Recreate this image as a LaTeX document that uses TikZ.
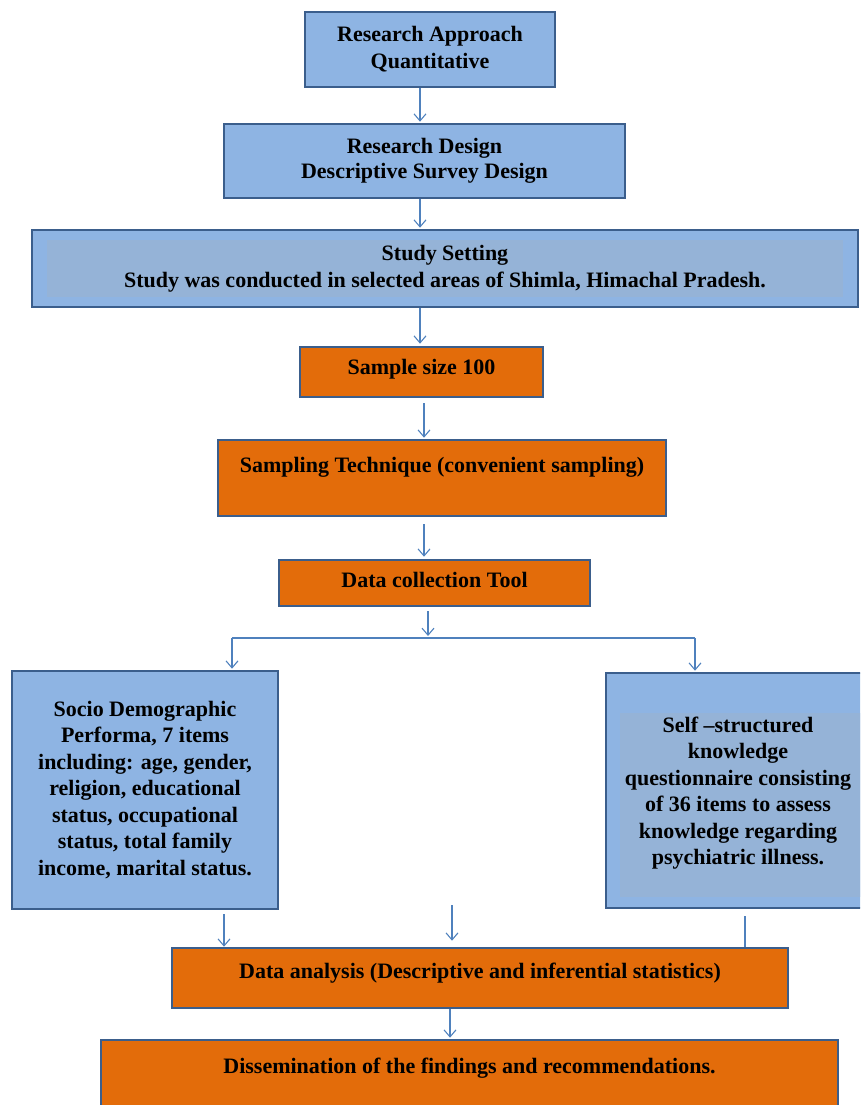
\documentclass[tikz,border=0pt]{standalone}
\usepackage{fontspec}
\setmainfont{Liberation Serif}
\usetikzlibrary{arrows.meta,calc}
\definecolor{boxblue}{HTML}{8EB4E3}
\definecolor{innerblue}{HTML}{95B3D7}
\definecolor{edgeblue}{HTML}{3B5E8C}
\definecolor{orng}{HTML}{E36C0A}
\definecolor{arrowblue}{HTML}{4F81BD}
\begin{document}
\begin{tikzpicture}[x=1pt,y=-1pt,
  box/.style={draw=edgeblue, line width=2.6pt, align=center,
    font=\fontsize{22}{26.5}\selectfont\bfseries, inner sep=0pt},
  bbox/.style={box, fill=boxblue},
  obox/.style={box, fill=orng},
  arr/.style={draw=arrowblue, line width=1.1pt, -{Straight Barb[length=7pt,width=12pt]}},
  plainline/.style={draw=arrowblue, line width=1.1pt}]
\useasboundingbox (0,0) rectangle (860,1105);
\clip (0,0) rectangle (860,1105);

% boxes
\node[bbox, minimum width=250, minimum height=75, font=\fontsize{22}{27}\selectfont\bfseries] (b1) at (430,49.5)
  {Research Approach\\Quantitative};
\node[bbox, minimum width=401, minimum height=74, font=\fontsize{22}{24.5}\selectfont\bfseries] (b2) at (424.5,161)
  {Research Design\\Descriptive Survey Design};
\node[bbox, minimum width=826, minimum height=77,
  path picture={\fill[innerblue] ($(path picture bounding box.north west)+(15,10)$)
    rectangle ($(path picture bounding box.south east)+(-15,-10)$);}] (b3) at (445,268.5)
  {Study Setting\\Study was conducted in selected areas of Shimla, Himachal Pradesh.};
\node[obox, minimum width=243, minimum height=50, text height=15, text depth=11] (b4) at (421.5,372)
  {Sample size 100};
\node[obox, minimum width=448, minimum height=76, text height=15, text depth=27] (b5) at (442,478)
  {Sampling Technique (convenient sampling)};
\node[obox, minimum width=311, minimum height=46, text height=15, text depth=7] (b6) at (434.5,583)
  {Data collection Tool};
\node[bbox, minimum width=266, minimum height=238] (b7) at (145,790)
  {Socio Demographic\\Performa, 7 items\\including: age, gender,\\religion, educational\\status, occupational\\status, total family\\income, marital status.};
\node[bbox, minimum width=260, minimum height=235,
  path picture={\fill[innerblue] ($(path picture bounding box.north west)+(14,40)$)
    rectangle ($(path picture bounding box.south east)+(0,-11)$);}] (b8) at (736,790.5)
  {};
\node[font=\fontsize{22}{26.5}\selectfont\bfseries, align=center, inner sep=0pt] (t8) at (738,793)
  {Self \textendash structured\\knowledge\\questionnaire consisting\\of 36 items to assess\\knowledge regarding\\psychiatric illness.};
\node[obox, minimum width=616, minimum height=60, text height=15, text depth=15] (b9) at (480,978)
  {Data analysis (Descriptive and inferential statistics)};
\node[obox, minimum width=737, minimum height=85, text height=15, text depth=34] (b10) at (469.5,1082.5)
  {Dissemination of the findings and recommendations.};

% column coordinates
\coordinate (c1) at (420,0);
\coordinate (c2) at (424,0);
\coordinate (c3) at (428,0);
\coordinate (j) at (428,636);
\coordinate (jl) at (232,638);
\coordinate (jr) at (695,638);
\coordinate (cl) at (224,0);
\coordinate (m) at (452,905);
\coordinate (cr) at (745,0);
\coordinate (c4) at (450,0);

% connectors
\draw[arr, shorten >=1pt] (b1.south -| c1) -- (b2.north -| c1);
\draw[arr, shorten >=1pt] (b2.south -| c1) -- (b3.north -| c1);
\draw[arr, shorten >=2pt] (b3.south -| c1) -- (b4.north -| c1);
\draw[arr, shorten <=5pt, shorten >=1pt] (b4.south -| c2) -- (b5.north -| c2);
\draw[arr, shorten <=7pt, shorten >=2pt] (b5.south -| c2) -- (b6.north -| c2);
\draw[arr, shorten <=4pt] (b6.south -| c3) -- (j);
\draw[plainline] (jl) -- (jr);
\draw[arr, shorten >=1pt] (jl) -- (b7.north -| jl);
\draw[arr, shorten >=1pt] (jr) -- (b8.north -| jr);
\draw[arr, shorten <=4pt] (b7.south -| cl) -- (b9.north -| cl);
\draw[arr, shorten >=6pt] (m) -- (b9.north -| m);
\draw[plainline, shorten <=7pt] (b8.south -| cr) -- (b9.north -| cr);
\draw[arr, shorten >=1pt] (b9.south -| c4) -- (b10.north -| c4);
\end{tikzpicture}
\end{document}
